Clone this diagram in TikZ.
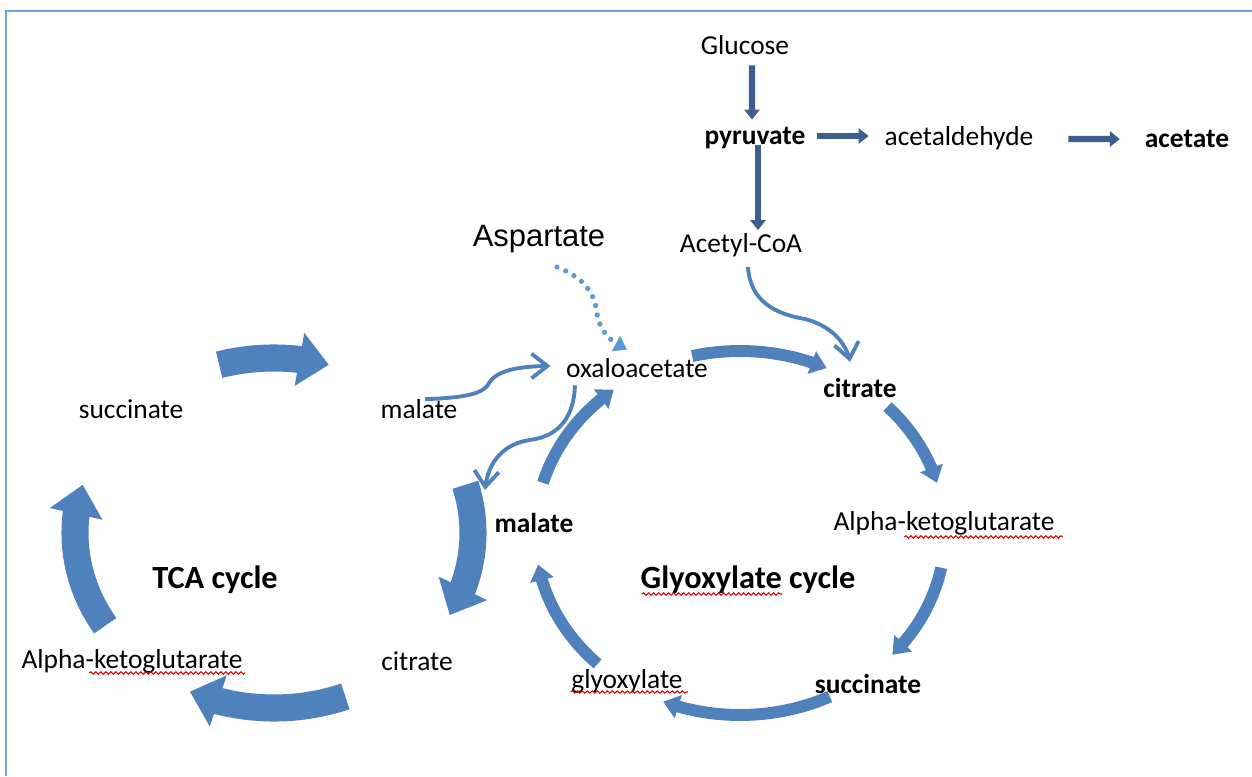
\documentclass[tikz,border=0pt]{standalone}
\usepackage{fontspec}
\setmainfont{Carlito}
\newfontfamily\aspfont{Liberation Sans}
\usetikzlibrary{arrows.meta,bending,decorations.pathmorphing}

\definecolor{pathblue}{HTML}{3C5F8E}
\definecolor{cycleblue}{HTML}{4F81BD}
\definecolor{dotblue}{HTML}{5B9BD5}
\definecolor{frameblue}{HTML}{6FA6DC}

\begin{document}
\begin{tikzpicture}
  [met/.style={inner sep=0, font=\fontsize{7.8}{9}\selectfont},
   bmet/.style={inner sep=0, font=\fontsize{7.8}{9}\selectfont\bfseries},
   cyc/.style={inner sep=0, font=\fontsize{9.2}{11}\selectfont\bfseries},
   feed/.style={draw=pathblue, line width=1.8pt, -{Triangle[length=2.8pt, width=4.3pt]}},
   link/.style={draw=cycleblue, line width=1.1pt, -{Straight Barb[length=4.5pt, width=7pt]}},
   tcaarc/.style={draw=cycleblue, line width=7.7pt, -{Triangle[length=8.5pt, width=14.8pt]}},
   glyarc/.style={draw=cycleblue, line width=3.4pt, -{Triangle[length=4.5pt, width=6.6pt]}},
   spell/.style={draw=red!85!black, line width=0.3pt, decorate,
                 decoration={snake, segment length=0.05cm, amplitude=0.012cm}}]

  \useasboundingbox (0, 0) rectangle (12.52, 7.76);

  % frame
  \draw[draw=frameblue, line width=0.6pt] (0.06, 0) -- (0.06, 7.65) -- (12.52, 7.65);

  % glycolysis and fermentation
  \node[met] (glucose) at (7.45, 7.31) {Glucose};
  \node[bmet] (pyruvate) at (7.55, 6.38) {pyruvate};
  \node[met] (acetaldehyde) at (9.59, 6.38) {acetaldehyde};
  \node[bmet] (acetate) at (11.87, 6.37) {acetate};
  \node[met] (acetylcoa) at (7.41, 5.31) {Acetyl-CoA};
  \node[inner sep=0, font=\aspfont\fontsize{8.8}{10}\selectfont] (aspartate) at (5.39, 5.37) {Aspartate};

  \draw[feed] ([shift={(0.07, -0.10)}]glucose.south) -- ([shift={(-0.03, 0.07)}]pyruvate.north);
  \draw[feed] ([shift={(0.03, -0.07)}]pyruvate.center) -- ([shift={(0.17, 0.025)}]acetylcoa.north);
  \draw[feed] ([shift={(0.105, 0.02)}]pyruvate.east) -- ([shift={(-0.155, 0.02)}]acetaldehyde.west);
  \draw[feed] ([shift={(0.345, -0.01)}]acetaldehyde.east) -- ([shift={(-0.245, 0)}]acetate.west);

  % glyoxylate cycle
  \node[met] (oxaloacetate) at (6.37, 4.08) {oxaloacetate};
  \node[bmet] (citrate) at (8.60, 3.88) {citrate};
  \node[met] (akg) at (9.44, 2.53) {Alpha-ketoglutarate};
  \node[cyc] (glycycle) at (7.48, 1.96) {Glyoxylate cycle};
  \node[bmet] (succinate) at (8.68, 0.92) {succinate};
  \node[met] (glyoxylate) at (6.27, 0.95) {glyoxylate};
  \node[bmet] (malate) at (5.34, 2.53) {malate};

  \coordinate (gly) at (7.40, 2.43);
  \draw[glyarc] (gly) ++(103.5:2.05cm and 1.82cm) arc[start angle=103.5, end angle=65, x radius=2.05, y radius=1.82];
  \draw[glyarc] (gly) ++(44:2.05cm and 1.82cm) arc[start angle=44, end angle=16, x radius=2.05, y radius=1.82];
  \draw[glyarc] (gly) ++(-11:2.05cm and 1.82cm) arc[start angle=-11, end angle=-42, x radius=2.05, y radius=1.82];
  \draw[glyarc] (gly) ++(-64:2.05cm and 1.82cm) arc[start angle=-64, end angle=-112, x radius=2.05, y radius=1.82];
  \draw[glyarc] (gly) ++(-134:2.05cm and 1.82cm) arc[start angle=-134, end angle=-170, x radius=2.05, y radius=1.82];
  \draw[glyarc] (gly) ++(164:2.05cm and 1.82cm) arc[start angle=164, end angle=128, x radius=2.05, y radius=1.82];

  % TCA cycle
  \node[met] (malatet) at (4.19, 3.67) {malate};
  \node[met] (succinatet) at (1.31, 3.67) {succinate};
  \node[cyc] (tcacycle) at (2.15, 1.96) {TCA cycle};
  \node[met] (akgt) at (1.32, 1.15) {Alpha-ketoglutarate};
  \node[met] (citratet) at (4.17, 1.15) {citrate};

  \coordinate (tca) at (2.74, 2.43);
  \draw[tcaarc] (tca) ++(106:1.99cm and 1.75cm) arc[start angle=106, end angle=74, x radius=1.99, y radius=1.75];
  \draw[tcaarc] (tca) ++(16:1.99cm and 1.75cm) arc[start angle=16, end angle=-28, x radius=1.99, y radius=1.75];
  \draw[tcaarc] (tca) ++(-69:1.99cm and 1.75cm) arc[start angle=-69, end angle=-115, x radius=1.99, y radius=1.75];
  \draw[tcaarc] (tca) ++(212:1.99cm and 1.75cm) arc[start angle=212, end angle=164, x radius=1.99, y radius=1.75];

  % links between the cycles
  \coordinate (tcaentry) at (4.85, 2.86);
  \draw[link] ([shift={(0.07, -0.095)}]acetylcoa.south)
    .. controls (7.50, 4.75) and (7.75, 4.62) .. (8.05, 4.57)
    .. controls (8.32, 4.50) and (8.47, 4.32) .. ([shift={(-0.10, 0.157)}]citrate.north);
  \draw[link] ([shift={(0.06, -0.005)}]malatet.north)
    .. controls (4.55, 3.78) and (4.83, 3.80) .. (4.89, 3.93)
    .. controls (4.97, 4.06) and (5.20, 4.10) .. ([shift={(-0.15, 0.02)}]oxaloacetate.west);
  \draw[link] ([shift={(-0.62, -0.07)}]oxaloacetate.south)
    .. controls (5.74, 3.60) and (5.60, 3.40) .. (5.30, 3.36)
    .. controls (5.02, 3.32) and (4.87, 3.12) .. (tcaentry);
  \draw[draw=dotblue, line width=1.5pt, line cap=round, dash pattern=on 0pt off 2.7pt,
        -{Triangle[length=3.6pt, width=4.8pt]}]
    ([shift={(0.18, -0.135)}]aspartate.south)
    .. controls (5.85, 4.98) and (5.95, 4.82) .. (5.97, 4.62)
    .. controls (6.00, 4.45) and (6.10, 4.34) .. ([shift={(-0.10, 0.08)}]oxaloacetate.north);

  % spelling marks
  \draw[spell] ([shift={(0.685, -0.12)}]akgt.west) -- ([shift={(0.02, -0.12)}]akgt.east);
  \draw[spell] ([shift={(0.715, -0.14)}]akg.west) -- ([shift={(0.075, -0.14)}]akg.east);
  \draw[spell] ([shift={(0.02, -0.14)}]glycycle.west) -- ([shift={(1.42, -0.14)}]glycycle.west);
  \draw[spell] ([shift={(0, -0.11)}]glyoxylate.west) -- ([shift={(0.045, -0.11)}]glyoxylate.east);

\end{tikzpicture}
\end{document}
